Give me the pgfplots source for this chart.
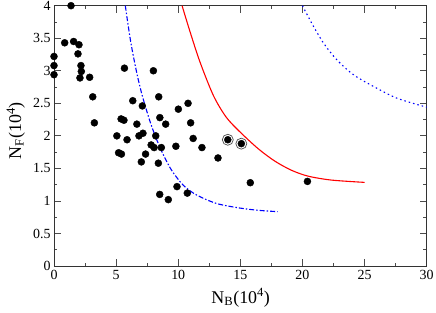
\documentclass[border=0pt]{standalone}
\usepackage{fontspec}
\setmainfont{Liberation Serif}
\usepackage{pgfplots}
\pgfplotsset{compat=1.18}
\begin{document}
\begin{tikzpicture}
\begin{axis}[
 name=ax,
 width=372.7bp, height=260.3bp, scale only axis,
 xmin=0, xmax=30, ymin=0, ymax=4,
 xtick={0,5,...,30}, ytick={0,0.5,...,4},
 minor x tick num=1, minor y tick num=1,
 tick align=inside, major tick length=7bp, minor tick length=3.5bp,
 /pgf/number format/assume math mode=true,
 ticklabel style={font=\fontsize{14}{14}\selectfont},
 xticklabel style={yshift=-1bp},
 xlabel={N\textsubscript{B}(10\textsuperscript{4})},
 ylabel={N\textsubscript{F}(10\textsuperscript{4})},
 label style={font=\fontsize{18}{18}\selectfont},
 xlabel style={at={(axis description cs:0.501,-0.143)}, anchor=base},
 ylabel style={at={(axis description cs:-0.0885,0.52)}, anchor=base},
 axis line style={line width=1pt, black!80},
 every tick/.style={black!70, line width=0.8pt},
 clip=false,
]
\addplot[only marks, mark=*, mark size=3.5bp, black] coordinates {
(1.37,4.0)
(0,3.22) (0,3.08) (0,2.94)
(0.86,3.43) (1.58,3.45) (2.01,3.40) (1.93,3.26) (2.17,3.08) (2.2,2.99) (2.09,2.89) (2.87,2.90) (3.12,2.60) (3.25,2.20)
(5.67,3.04) (8.0,3.0) (6.34,2.54) (8.43,2.60) (7.11,2.46) (10.01,2.41) (10.79,2.50)
(5.40,2.26) (5.63,2.24) (8.52,2.28) (8.99,2.18) (6.67,2.18) (11.0,2.2)
(5.06,2.0) (5.88,1.94) (6.84,2.0) (7.16,2.04) (8.19,2.0) (11.2,1.96)
(7.82,1.86) (8.06,1.82) (8.64,1.82) (9.81,1.84) (11.91,1.82) (13.2,1.66)
(5.2,1.74) (5.43,1.72) (7.37,1.72) (7.03,1.6) (8.4,1.58)
(9.9,1.22) (10.73,1.12) (8.51,1.10) (9.2,1.02)
(13.99,1.94) (15.08,1.88) (15.8,1.28) (20.4,1.30)
};
\addplot[only marks, mark=o, mark size=5.5bp, black!70, mark options={line width=0.7pt}] coordinates {
(13.99,1.94) (15.08,1.88)
};
\addplot[red, line width=1.1pt, smooth] coordinates {
(10.31,4.00) (10.95,3.60) (11.76,3.13) (12.83,2.62) (13.85,2.29) (14.97,2.06) (16.45,1.80) (17.79,1.61) (19.13,1.47) (20.47,1.38) (22.35,1.32) (25.0,1.285)
};
\addplot[blue, line width=1.1pt, smooth, dash pattern=on 5bp off 2bp on 1.5bp off 2bp] coordinates {
(5.74,4.0) (6.17,3.45) (6.66,2.97) (7.1,2.62) (7.73,2.22) (8.27,1.94) (8.8,1.71) (9.47,1.47) (10.41,1.24) (11.49,1.09) (13.1,0.96) (14.98,0.89) (16.5,0.855) (18.0,0.835)
};
\addplot[blue, line width=1.1pt, smooth, dash pattern=on 1.5bp off 3bp] coordinates {
(20.0,4.0) (20.75,3.73) (21.68,3.43) (22.76,3.17) (24.1,2.94) (25.71,2.76) (27.59,2.58) (30,2.44)
};
\end{axis}
\path (ax.south west) ++(-54bp,-47bp) coordinate (bbA);
\pgfresetboundingbox
\useasboundingbox (bbA) rectangle ++(436bp,313bp);
\end{tikzpicture}
\end{document}
